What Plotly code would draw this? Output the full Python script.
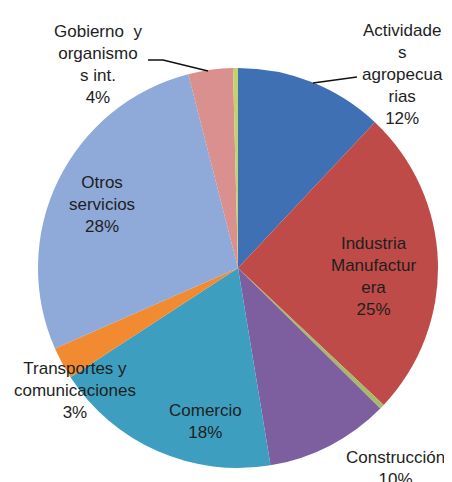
import plotly.graph_objects as go

# page has an 8px default body margin; figure is sized/positioned to fill the 452x482 window
OFF = 8
W, H = 452 - OFF, 482 - OFF

sectors = ["Actividades agropecuarias", "Industria Manufacturera", "Electricidad, gas y agua",
           "Construcción", "Comercio", "Transportes y comunicaciones", "Otros servicios",
           "Gobierno y organismos int.", "Otros"]
values = [12.0, 25.0, 0.4, 10.0, 18.4, 2.6, 27.6, 3.6, 0.4]
colors = ["#3F70B3", "#BE4B48", "#A9B86A", "#7D5FA0", "#3D9EC0", "#F28A32",
          "#8FA9D9", "#D9908E", "#C2D36E"]
# label text as drawn in the chart (wrapped like the original)
label_text = ["Actividade<br>s<br>agropecua<br>rias", "Industria<br>Manufactur<br>era", "",
              "Construcción", "Comercio", "Transportes y<br>comunicaciones", "Otros<br>servicios",
              "Gobierno  y<br>organismo<br>s int.", ""]
# label centres in window pixels
label_pos = [(402, 75), (373, 276), None, (395, 468), (205, 421), (75, 390), (102, 205),
             (98, 64), None]


def px(x, y):
    return (x - OFF) / W, 1 - (y - OFF) / H


x0, y_top = px(38, 68)
x1, y_bot = px(438, 468)

fig = go.Figure(go.Pie(
    labels=sectors, values=values, sort=False, direction="clockwise", rotation=0,
    marker=dict(colors=colors, line=dict(width=0)),
    textinfo="none", hoverinfo="none", showlegend=False,
    domain=dict(x=[x0, x1], y=[y_bot, y_top]),
))

total = sum(values)
for name, txt, pos, v in zip(sectors, label_text, label_pos, values):
    if pos is None:
        continue
    pct = round(100 * v / total)
    x, y = px(*pos)
    fig.add_annotation(x=x, y=y, xref="paper", yref="paper", showarrow=False,
                       text=f"{txt}<br>{pct}%", align="center",
                       xanchor="center", yanchor="middle",
                       font=dict(family="Liberation Sans, Arial, sans-serif", size=17, color="#1E1E1E"))

# leader lines
for pts in [[(148, 60), (163, 60), (208, 71)], [(313, 83), (357, 77)]]:
    path = "M " + " L ".join(f"{px(a, b)[0]},{px(a, b)[1]}" for a, b in pts)
    fig.add_shape(type="path", path=path, xref="paper", yref="paper",
                  line=dict(color="#111111", width=1.5))

fig.update_layout(width=W, height=H, margin=dict(l=0, r=0, t=0, b=0),
                  paper_bgcolor="white", plot_bgcolor="white")
fig.write_html("out.html")
